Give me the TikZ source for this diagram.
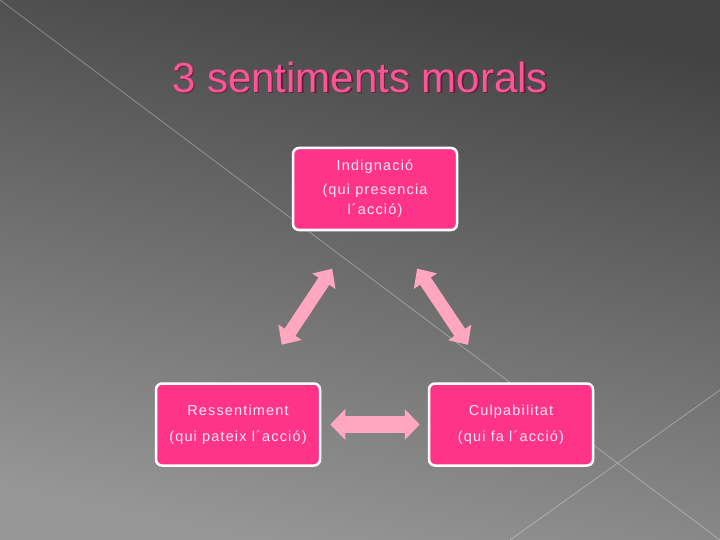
\documentclass[tikz,border=0pt]{standalone}
\usepackage{fontspec}
\setmainfont{Liberation Sans}
\newfontfamily\boxfont[LetterSpace=8]{Liberation Sans}
\usetikzlibrary{arrows.meta}
\definecolor{boxpink}{RGB}{255,51,136}
\definecolor{arrowpink}{RGB}{255,166,192}
\definecolor{titlepink}{RGB}{255,85,150}
\definecolor{titleshade}{RGB}{95,35,60}
\definecolor{textpink}{RGB}{255,230,241}
\definecolor{bgdark}{RGB}{66,66,66}
\definecolor{bglight}{RGB}{150,150,150}

\begin{document}
\begin{tikzpicture}[x=1pt,y=-1pt,
  feeling/.style={draw=white,line width=2.5pt,fill=boxpink,rounded corners=6pt,
    minimum width=164pt,minimum height=82pt,text=textpink,align=center,
    font=\boxfont\fontsize{14.5}{20}\selectfont},
  link/.style={arrowpink,line width=13pt,>={Triangle[length=15pt,width=27pt]},<->}]
  \useasboundingbox (0,0) rectangle (720,540);
  \shade[top color=bgdark,bottom color=bglight,shading angle=-12] (0,0) rectangle (720,540);
  \draw[white,opacity=.35,line width=.7pt] (0,0) -- (720,540) (510,540) -- (720,390);
  % title
  \node[anchor=base,text=titleshade,font=\fontsize{42}{50}\selectfont] (titleshadow) at (361.5,94) {3 sentiments morals};
  \node[anchor=base,text=titlepink,font=\fontsize{42}{50}\selectfont] (title) at (360,92.5) {3 sentiments morals};
  % the three feelings
  \node[feeling] (ind) at (375,189) {Indignació\\[4pt](qui presencia\\l´acció)};
  \node[feeling] (res) at (238,424.5) {Ressentiment\\[6pt](qui pateix l´acció)};
  \node[feeling] (cul) at (511,424.5) {Culpabilitat\\[6pt](qui fa l´acció)};
  \draw[link,shorten <=45pt,shorten >=45pt] (ind.247.5) -- (res.66.5);
  \draw[link,shorten <=45pt,shorten >=45pt] (ind.292.5) -- (cul.113.5);
  \draw[link,line width=17pt,>={Triangle[length=15pt,width=30pt]},shorten <=9pt,shorten >=8pt] (res.east) -- (cul.west);
\end{tikzpicture}
\end{document}
